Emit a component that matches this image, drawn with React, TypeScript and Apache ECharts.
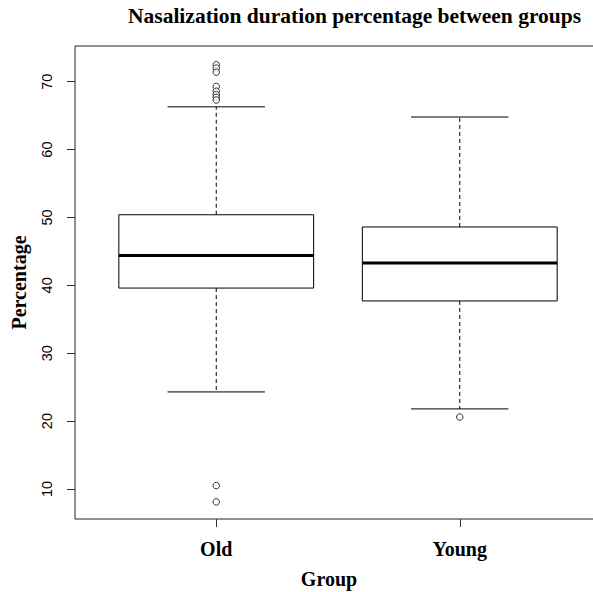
import React, { useEffect, useRef } from "react";
import * as echarts from "echarts";

// ---- data ----
const groups = ["Old", "Young"];
const groupPositions = [1, 2];
const whiskerLow = [24.3, 21.8];
const q1 = [39.6, 37.7];
const median = [44.4, 43.3];
const q3 = [50.4, 48.6];
const whiskerHigh = [66.3, 64.8];
const oldOutliers = [72.5, 72.0, 71.4, 69.3, 68.6, 68.1, 67.7, 67.3, 10.5, 8.1];
const youngOutliers = [20.6];
const yTicks = [10, 20, 30, 40, 50, 60, 70];

const SERIF = "'Liberation Serif', 'Times New Roman', serif";
const SANS = "'Liberation Sans', Arial, sans-serif";

export default function App() {
  const ref = useRef<HTMLDivElement>(null);

  useEffect(() => {
    if (!ref.current) return;
    const chart = echarts.init(ref.current, undefined, { renderer: "svg" });

    const boxData = groupPositions.map((p, i) => [
      p,
      whiskerLow[i],
      q1[i],
      median[i],
      q3[i],
      whiskerHigh[i],
    ]);
    const outlierData = [
      ...oldOutliers.map((v) => [groupPositions[0], v]),
      ...youngOutliers.map((v) => [groupPositions[1], v]),
    ];

    const renderItem = (params: any, api: any) => {
      const x = api.value(0);
      const pMin = api.coord([x, api.value(1)]);
      const pQ1 = api.coord([x, api.value(2)]);
      const pMed = api.coord([x, api.value(3)]);
      const pQ3 = api.coord([x, api.value(4)]);
      const pMax = api.coord([x, api.value(5)]);
      const boxW = api.size([0.8, 0])[0];
      const cx = pMed[0];
      const half = boxW / 2;
      const staple = boxW / 4;
      const stroke = { stroke: "#000", lineWidth: 1, fill: "none" };
      const dashed = { stroke: "#000", lineWidth: 1, lineDash: [4, 3], fill: "none" };
      return {
        type: "group",
        children: [
          { type: "line", shape: { x1: cx, y1: pQ3[1], x2: cx, y2: pMax[1] }, style: dashed },
          { type: "line", shape: { x1: cx, y1: pQ1[1], x2: cx, y2: pMin[1] }, style: dashed },
          { type: "line", shape: { x1: cx - staple, y1: pMax[1], x2: cx + staple, y2: pMax[1] }, style: stroke },
          { type: "line", shape: { x1: cx - staple, y1: pMin[1], x2: cx + staple, y2: pMin[1] }, style: stroke },
          {
            type: "rect",
            shape: { x: cx - half, y: pQ3[1], width: boxW, height: pQ1[1] - pQ3[1] },
            style: { stroke: "#000", lineWidth: 1, fill: "#fff" },
          },
          {
            type: "line",
            shape: { x1: cx - half, y1: pMed[1], x2: cx + half, y2: pMed[1] },
            style: { stroke: "#000", lineWidth: 3 },
          },
        ],
      };
    };

    chart.setOption({
      animation: false,
      backgroundColor: "#fff",
      title: {
        text: "Nasalization duration percentage between groups",
        left: 128,
        top: 5,
        padding: 0,
        textStyle: { fontFamily: SERIF, fontWeight: "bold", fontSize: 21.5, color: "#000" },
      },
      grid: {
        left: 75,
        top: 46,
        width: 526,
        height: 473,
        outerBoundsMode: "none",
        containLabel: false,
        show: true,
        borderColor: "#222",
        borderWidth: 1,
        backgroundColor: "transparent",
      },
      xAxis: {
        type: "value",
        min: 0.42,
        max: 2.58,
        name: "Group",
        nameLocation: "middle",
        nameGap: 50,
        nameTextStyle: {
          fontFamily: SERIF,
          fontWeight: "bold",
          fontSize: 20,
          color: "#000",
          padding: [0, 18, 0, 0],
        },
        axisLine: { show: false },
        splitLine: { show: false },
        axisTick: {
          show: true,
          length: 8,
          customValues: groupPositions,
          lineStyle: { color: "#333" },
        },
        axisLabel: {
          customValues: groupPositions,
          formatter: (v: number) => groups[Math.round(v) - 1] ?? "",
          margin: 20,
          fontFamily: SERIF,
          fontWeight: "bold",
          fontSize: 20,
          color: "#000",
        },
      },
      yAxis: {
        type: "value",
        min: 5.58,
        max: 75.26,
        name: "Percentage",
        nameLocation: "middle",
        nameGap: 46,
        nameRotate: 90,
        nameTextStyle: { fontFamily: SERIF, fontWeight: "bold", fontSize: 20, color: "#000" },
        axisLine: { show: false },
        splitLine: { show: false },
        axisTick: {
          show: true,
          length: 8,
          customValues: yTicks,
          lineStyle: { color: "#333" },
        },
        axisLabel: {
          customValues: yTicks,
          rotate: 90,
          margin: 21,
          fontFamily: SANS,
          fontSize: 14.5,
          color: "#000",
        },
      },
      series: [
        {
          type: "custom",
          renderItem,
          data: boxData,
          encode: { x: 0, y: [1, 2, 3, 4, 5] },
          clip: false,
        },
        {
          type: "scatter",
          data: outlierData,
          symbol: "circle",
          symbolSize: 6.5,
          itemStyle: { color: "#fff", borderColor: "#000", borderWidth: 1 },
          z: 5,
        },
      ],
    });

    return () => chart.dispose();
  }, []);

  return (
    <div
      ref={ref}
      style={{ position: "fixed", left: 0, top: 0, width: 593, height: 592, background: "#fff" }}
    />
  );
}
